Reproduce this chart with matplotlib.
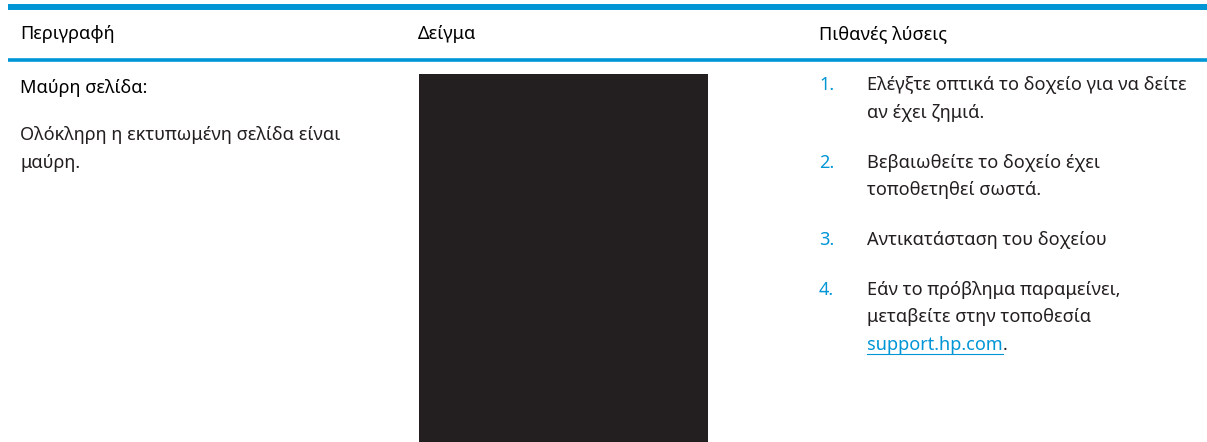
import matplotlib.pyplot as plt
from matplotlib.patches import Rectangle

plt.rcParams['font.family'] = ['Noto Sans', 'DejaVu Sans']

# texts of the table
headers = ["Περιγραφή", "Δείγμα", "Πιθανές λύσεις"]
title = "Μαύρη σελίδα:"
desc_lines = ["Ολόκληρη η εκτυπωμένη σελίδα είναι", "μαύρη."]
steps = [
    ["Ελέγξτε οπτικά το δοχείο για να δείτε", "αν έχει ζημιά."],
    ["Βεβαιωθείτε το δοχείο έχει", "τοποθετηθεί σωστά."],
    ["Αντικατάσταση του δοχείου"],
    ["Εάν το πρόβλημα παραμείνει,", "μεταβείτε στην τοποθεσία"],
]
link = "support.hp.com"

blue = "#0096d6"
dark = "#231f20"
fs = 13.1
line_h = 27.5
gap = 22.5

fig = plt.figure(figsize=(12.07, 4.42), dpi=100)
ax = fig.add_axes([0, 0, 1, 1])
ax.set_xlim(0, 1207)
ax.set_ylim(442, 0)
ax.axis("off")

# blue rules of the header
ax.plot([8, 1207], [7, 7], color=blue, lw=4.3, solid_capstyle="butt")
ax.plot([8, 1207], [59.5, 59.5], color=blue, lw=2.6, solid_capstyle="butt")

col_x = [20, 418, 819]
for x, h in zip(col_x, headers):
    ax.text(x, 34, h, fontsize=fs, color="black", va="center")

# left column
ax.text(20, 88, title, fontsize=fs, color="black", va="center", fontweight="medium")
for i, s in enumerate(desc_lines):
    ax.text(20, 135 + i * line_h, s, fontsize=fs, color=dark, va="center",
            fontweight="light")

# sample: a black page
ax.add_patch(Rectangle((419, 74), 289, 368, color=dark, lw=0))

# right column: numbered steps
y = 85
for n, lines in enumerate(steps, start=1):
    ax.text(819, y, f"{n}.", fontsize=fs, color=blue, va="center",
            fontweight="semibold")
    for j, s in enumerate(lines):
        ax.text(867, y + j * line_h, s, fontsize=fs, color=dark, va="center",
                fontweight="light")
    last_y = y + (len(lines) - 1) * line_h
    y = last_y + line_h + gap

# link line under step 4
ly = last_y + line_h
t = ax.text(867, ly, link, fontsize=fs, color=blue, va="center", fontweight="light")
fig.canvas.draw()
bb = t.get_window_extent().transformed(ax.transData.inverted())
ax.plot([bb.x0, bb.x1], [ly + 9, ly + 9], color=blue, lw=0.8)
ax.text(bb.x1, ly, ".", fontsize=fs, color=dark, va="center", fontweight="light")

fig.savefig("out.png", dpi=100)
